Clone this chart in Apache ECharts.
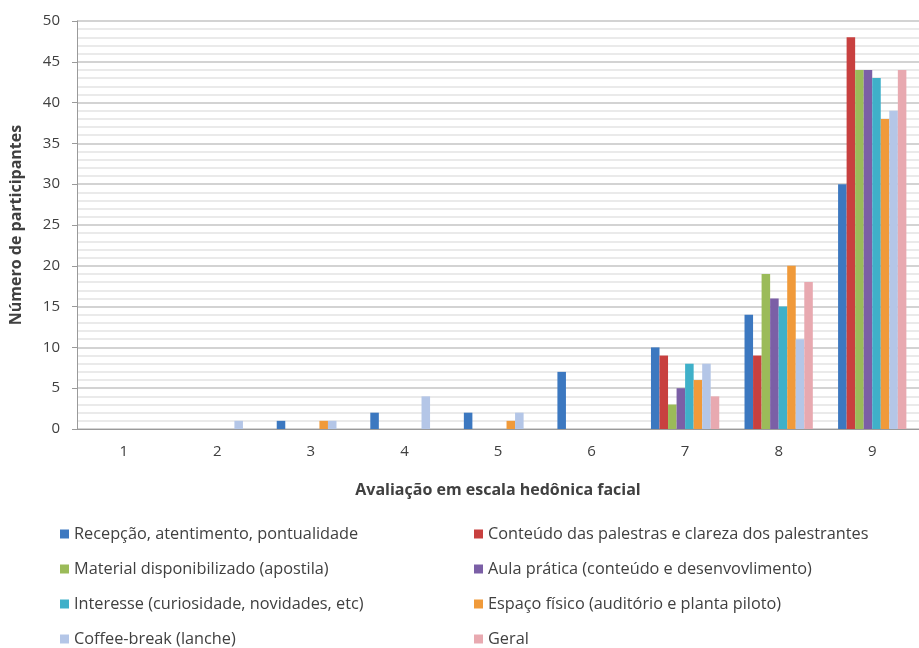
<!DOCTYPE html>
<html>
<head>
<meta charset="utf-8">
<script src="https://cdn.jsdelivr.net/npm/echarts@6/dist/echarts.min.js"></script>
<style>
  html, body { margin: 0; padding: 0; background: #fff; }
  #chart { width: 919px; height: 648px; }
</style>
</head>
<body>
<div id="chart"></div>
<script>
// Escala hedônica facial (1 a 9)
const categories = ['1', '2', '3', '4', '5', '6', '7', '8', '9'];

const seriesNames = [
  'Recepção, atentimento, pontualidade',
  'Conteúdo das palestras e clareza dos palestrantes',
  'Material disponibilizado (apostila)',
  'Aula prática (conteúdo e desenvovlimento)',
  'Interesse (curiosidade, novidades, etc)',
  'Espaço físico (auditório e planta piloto)',
  'Coffee-break (lanche)',
  'Geral'
];

// Número de participantes por nota
const recepcao  = [0, 0, 1, 2, 2, 7, 10, 14, 30];
const conteudo  = [0, 0, 0, 0, 0, 0, 9, 9, 48];
const material  = [0, 0, 0, 0, 0, 0, 3, 19, 44];
const aula      = [0, 0, 0, 0, 0, 0, 5, 16, 44];
const interesse = [0, 0, 0, 0, 0, 0, 8, 15, 43];
const espaco    = [0, 0, 1, 0, 1, 0, 6, 20, 38];
const coffee    = [0, 1, 1, 4, 2, 0, 8, 11, 39];
const geral     = [0, 0, 0, 0, 0, 0, 4, 18, 44];

const seriesValues = [recepcao, conteudo, material, aula, interesse, espaco, coffee, geral];
const colors = ['#3c78c0', '#c8403f', '#9bbb59', '#7b5fa6', '#3fb0c9', '#f09a3a', '#b4c6e7', '#e8a9b0'];

const textColor = '#404040';
const font = 'Open Sans';

function legendColumn(left, names) {
  return {
    orient: 'vertical', left: left, top: 524, height: 130, padding: 0,
    itemGap: 15, itemWidth: 9, itemHeight: 9, icon: 'rect',
    textStyle: { color: textColor, fontSize: 16.3, lineHeight: 20, fontFamily: font },
    data: names
  };
}

const chart = echarts.init(document.getElementById('chart'));
chart.setOption({
  animation: false,
  color: colors,
  textStyle: { fontFamily: font },
  grid: { left: 73, right: 0, top: 21, bottom: 219, containLabel: false },
  legend: [
    legendColumn(60, [seriesNames[0], seriesNames[2], seriesNames[4], seriesNames[6]]),
    legendColumn(474, [seriesNames[1], seriesNames[3], seriesNames[5], seriesNames[7]])
  ],
  xAxis: {
    type: 'category',
    data: categories,
    name: 'Avaliação em escala hedônica facial',
    nameLocation: 'middle',
    nameGap: 53,
    nameTextStyle: { color: textColor, fontSize: 16, fontWeight: 'bold', fontFamily: font },
    axisLine: { lineStyle: { color: '#9a9a9a', width: 1 } },
    axisTick: { show: false },
    axisLabel: { color: textColor, fontSize: 15, margin: 15, fontFamily: font }
  },
  yAxis: {
    type: 'value',
    min: 0, max: 50, interval: 5,
    name: 'Número de participantes',
    nameLocation: 'middle',
    nameGap: 53,
    nameTextStyle: { color: textColor, fontSize: 16, fontWeight: 'bold', fontFamily: font },
    axisLine: { show: true, lineStyle: { color: '#9a9a9a', width: 1 } },
    axisTick: { show: true, length: 5, lineStyle: { color: '#9a9a9a' } },
    axisLabel: { color: textColor, fontSize: 15, margin: 17, fontFamily: font },
    splitLine: { show: true, lineStyle: { color: '#c4c4c4', width: 1.5 } },
    minorTick: { show: false, splitNumber: 5 },
    minorSplitLine: { show: true, lineStyle: { color: '#e3e3e3', width: 1.5 } }
  },
  series: seriesValues.map((vals, i) => ({
    name: seriesNames[i],
    type: 'bar',
    data: vals,
    barGap: '0%',
    barCategoryGap: '27%',
    itemStyle: { color: colors[i] }
  }))
});
</script>
</body>
</html>
